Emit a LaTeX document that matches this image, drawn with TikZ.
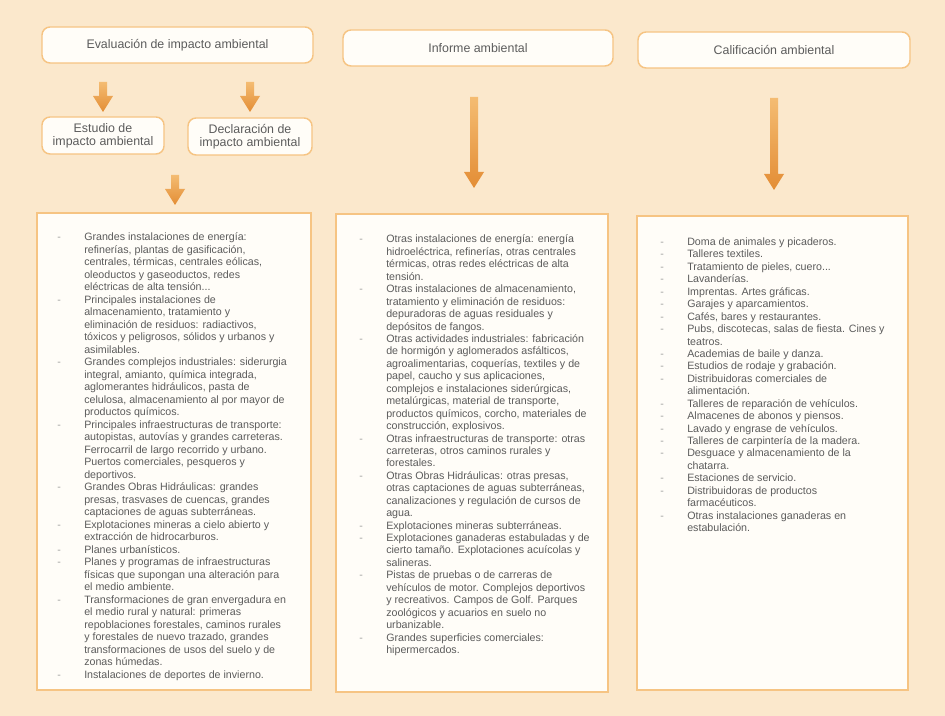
\documentclass[tikz,border=0pt]{standalone}
\usepackage{fontspec}
\setmainfont{Liberation Sans}
\usetikzlibrary{calc}
\definecolor{bgc}{HTML}{FBE8CC}
\definecolor{boxfill}{HTML}{FFFDF8}
\definecolor{boxline}{HTML}{F6C483}
\definecolor{txt}{HTML}{5C5C5C}
\definecolor{dashc}{HTML}{A0A0A0}
\definecolor{arrtop}{HTML}{F4BC72}
\definecolor{arrbot}{HTML}{E38D35}
\newcommand\itm{\leavevmode\llap{\textcolor{dashc}{-}\hspace{17.5pt}}}
\newcommand\bigarrow[2]{%
  \shade[top color=arrtop,bottom color=arrbot] let \p1=(#1), \p2=(#2) in
  (\x1-3pt,\y1) -- (\x1+3pt,\y1) -- (\x1+3pt,\y2+12pt) -- (\x1+7.5pt,\y2+12pt) --
  (\x1,\y2) -- (\x1-7.5pt,\y2+12pt) -- (\x1-3pt,\y2+12pt) -- cycle;}
\tikzset{
  topbox/.style={draw=boxline, line width=1.1pt, fill=boxfill, rounded corners=6pt,
    text=txt, font=\fontsize{9.3pt}{9.75pt}\selectfont, align=center, inner sep=0pt},
  listbox/.style={draw=boxline, line width=1.1pt, fill=boxfill, inner sep=0pt},
  listtext/.style={anchor=base west, inner sep=0pt, text=txt,
    font=\fontsize{8pt}{9.33pt}\selectfont},
}
\begin{document}
\begin{tikzpicture}[x=0.75pt,y=-0.75pt]
\useasboundingbox (0,0) rectangle (945,716);
\fill[bgc] (0,0) rectangle (945,716);

% top boxes
\node[topbox, minimum width=203.25pt, minimum height=27pt] (eval) at (177.5,45) {Evaluación de impacto ambiental};
\node[topbox, minimum width=202.5pt, minimum height=27pt] (inf) at (478,48) {Informe ambiental};
\node[topbox, minimum width=204pt, minimum height=27pt] (cal) at (774,50) {Calificación ambiental};
\node[topbox, minimum width=91.5pt, minimum height=27.75pt] (est) at (103,135.5) {Estudio de\\impacto ambiental};
\node[topbox, minimum width=93pt, minimum height=27.75pt] (dec) at (250,136.5) {Declaración de\\impacto ambiental};

% list boxes
\node[listbox, minimum width=205.5pt, minimum height=357.75pt] (l1) at (174,451.5) {};
\node[listbox, minimum width=204pt, minimum height=358.5pt] (l2) at (472,453) {};
\node[listbox, minimum width=203.25pt, minimum height=355.5pt] (l3) at (772.5,453) {};

% arrows
\coordinate (a1s) at (103,82);  \coordinate (a1e) at (103,112);
\coordinate (a2s) at (250,82);  \coordinate (a2e) at (250,112);
\coordinate (a3s) at (175,175); \coordinate (a3e) at (175,205);
\coordinate (a4s) at (474,97);  \coordinate (a4e) at (474,188);
\coordinate (a5s) at (774,98);  \coordinate (a5e) at (774,190);
\bigarrow{a1s}{a1e}
\bigarrow{a2s}{a2e}
\bigarrow{a3s}{a3e}
\bigarrow{a4s}{a4e}
\bigarrow{a5s}{a5e}

% column 1 text
\node[listtext, font=\fontsize{8pt}{9.37pt}\selectfont] (t1) at (84,241) {\parbox[t]{250pt}{\raggedright
\itm Grandes instalaciones de energía:\\
refinerías, plantas de gasificación,\\
centrales, térmicas, centrales eólicas,\\
oleoductos y gaseoductos, redes\\
eléctricas de alta tensión...\\
\itm Principales instalaciones de\\
almacenamiento, tratamiento y\\
eliminación de residuos: radiactivos,\\
tóxicos y peligrosos, sólidos y urbanos y\\
asimilables.\\
\itm Grandes complejos industriales: siderurgia\\
integral, amianto, química integrada,\\
aglomerantes hidráulicos, pasta de\\
celulosa, almacenamiento al por mayor de\\
productos químicos.\\
\itm Principales infraestructuras de transporte:\\
autopistas, autovías y grandes carreteras.\\
Ferrocarril de largo recorrido y urbano.\\
Puertos comerciales, pesqueros y\\
deportivos.\\
\itm Grandes Obras Hidráulicas: grandes\\
presas, trasvases de cuencas, grandes\\
captaciones de aguas subterráneas.\\
\itm Explotaciones mineras a cielo abierto y\\
extracción de hidrocarburos.\\
\itm Planes urbanísticos.\\
\itm Planes y programas de infraestructuras\\
físicas que supongan una alteración para\\
el medio ambiente.\\
\itm Transformaciones de gran envergadura en\\
el medio rural y natural: primeras\\
repoblaciones forestales, caminos rurales\\
y forestales de nuevo trazado, grandes\\
transformaciones de usos del suelo y de\\
zonas húmedas.\\
\itm Instalaciones de deportes de invierno.}};

% column 2 text
\node[listtext] (t2) at (386,243) {\parbox[t]{250pt}{\raggedright
\itm Otras instalaciones de energía: energía\\
hidroeléctrica, refinerías, otras centrales\\
térmicas, otras redes eléctricas de alta\\
tensión.\\
\itm Otras instalaciones de almacenamiento,\\
tratamiento y eliminación de residuos:\\
depuradoras de aguas residuales y\\
depósitos de fangos.\\
\itm Otras actividades industriales: fabricación\\
de hormigón y aglomerados asfálticos,\\
agroalimentarias, coquerías, textiles y de\\
papel, caucho y sus aplicaciones,\\
complejos e instalaciones siderúrgicas,\\
metalúrgicas, material de transporte,\\
productos químicos, corcho, materiales de\\
construcción, explosivos.\\
\itm Otras infraestructuras de transporte: otras\\
carreteras, otros caminos rurales y\\
forestales.\\
\itm Otras Obras Hidráulicas: otras presas,\\
otras captaciones de aguas subterráneas,\\
canalizaciones y regulación de cursos de\\
agua.\\
\itm Explotaciones mineras subterráneas.\\
\itm Explotaciones ganaderas estabuladas y de\\
cierto tamaño. Explotaciones acuícolas y\\
salineras.\\
\itm Pistas de pruebas o de carreras de\\
vehículos de motor. Complejos deportivos\\
y recreativos. Campos de Golf. Parques\\
zoológicos y acuarios en suelo no\\
urbanizable.\\
\itm Grandes superficies comerciales:\\
hipermercados.}};

% column 3 text
\node[listtext] (t3) at (687,245.5) {\parbox[t]{250pt}{\raggedright
\itm Doma de animales y picaderos.\\
\itm Talleres textiles.\\
\itm Tratamiento de pieles, cuero...\\
\itm Lavanderías.\\
\itm Imprentas. Artes gráficas.\\
\itm Garajes y aparcamientos.\\
\itm Cafés, bares y restaurantes.\\
\itm Pubs, discotecas, salas de fiesta. Cines y\\
teatros.\\
\itm Academias de baile y danza.\\
\itm Estudios de rodaje y grabación.\\
\itm Distribuidoras comerciales de\\
alimentación.\\
\itm Talleres de reparación de vehículos.\\
\itm Almacenes de abonos y piensos.\\
\itm Lavado y engrase de vehículos.\\
\itm Talleres de carpintería de la madera.\\
\itm Desguace y almacenamiento de la\\
chatarra.\\
\itm Estaciones de servicio.\\
\itm Distribuidoras de productos\\
farmacéuticos.\\
\itm Otras instalaciones ganaderas en\\
estabulación.}};
\end{tikzpicture}
\end{document}
